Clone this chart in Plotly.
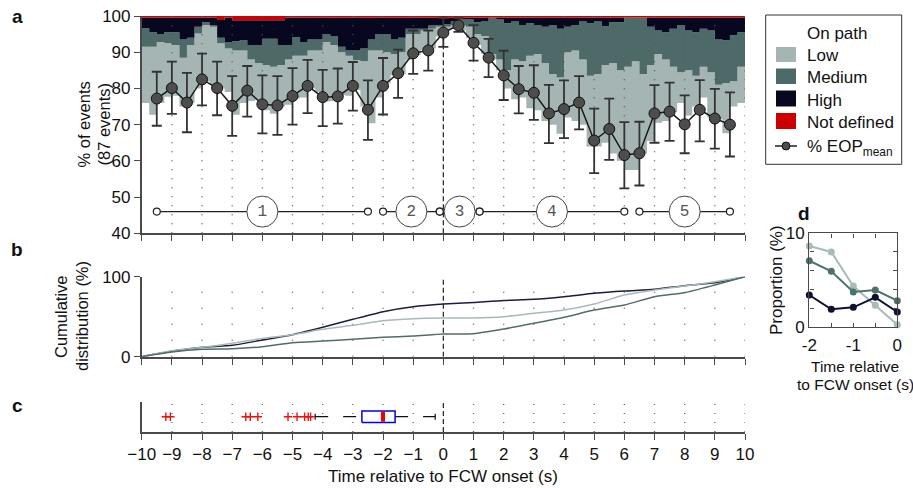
import numpy as np
import plotly.graph_objects as go

W, H = 913, 488
def PX(x): return x / W
def PY(y): return 1 - y / H

FONT = "Liberation Sans, Arial, sans-serif"
C_LOW = "#a4b5b4"; C_MED = "#4d6a68"; C_HIGH = "#07081f"; C_ND = "#cc0000"
AX = "#4a4a4a"

# ---------------- data ----------------
# panel a: mean % eyes-on-path and CI
t_mean = [-9.5, -9.0, -8.5, -8.0, -7.5, -7.0, -6.5, -6.0, -5.5, -5.0, -4.5, -4.0, -3.5,
          -3.0, -2.5, -2.0, -1.5, -1.0, -0.5, 0.0, 0.5, 1.0, 1.5, 2.0, 2.5, 3.0, 3.5,
          4.0, 4.5, 5.0, 5.5, 6.0, 6.5, 7.0, 7.5, 8.0, 8.5, 9.0, 9.5]
eop_mean = [77.2, 80.1, 76.1, 82.5, 80.1, 75.2, 79.4, 75.6, 75.3, 77.9, 80.7, 77.6, 77.8,
            80.7, 74.1, 80.7, 84.2, 89.7, 90.5, 95.4, 97.4, 92.6, 88.5, 83.6, 79.8, 78.8, 73.1,
            74.3, 76.1, 65.6, 68.8, 61.6, 62.1, 73.1, 73.6, 70.1, 74.1, 71.7, 70.0]
ci_hi = [84.6, 87.4, 84.3, 89.6, 87.4, 83.4, 86.2, 83.6, 83.4, 85.6, 87.9, 85.1, 85.5,
         87.3, 82.2, 88.4, 90.7, 96.0, 96.0, 99.4, 99.4, 97.5, 93.7, 90.4, 86.2, 86.4, 81.0,
         82.2, 83.4, 74.4, 77.2, 70.7, 70.8, 80.9, 81.6, 78.1, 82.3, 79.9, 78.9]
ci_lo = [69.7, 73.0, 67.9, 75.3, 72.6, 66.9, 72.2, 67.6, 67.2, 70.0, 73.2, 69.6, 70.3,
         73.9, 65.8, 72.8, 77.4, 84.0, 84.9, 91.5, 95.6, 87.7, 83.1, 76.8, 73.1, 71.3, 64.9,
         66.3, 68.7, 56.6, 60.3, 52.4, 53.2, 65.0, 65.5, 62.1, 65.4, 63.4, 61.2]

# panel a: stacked off-path levels (cumulative boundaries, % of events) per 0.25 s bin
bin_start = np.arange(-10, 10, 0.25)
low_bot = [76, 72.7, 76, 77.7, 78, 75, 76, 80, 82, 81,
           80, 79, 72.7, 76, 76.5, 76.8, 74, 73, 75, 75.5,
           77.3, 77.5, 80, 79, 76.4, 76.5, 78.2, 78, 79.6, 75,
           70.4, 77.5, 81.4, 83.7, 84, 87.9, 89.2, 90.6, 91, 94.3,
           96, 96.5, 96, 94, 92, 89.5, 88, 85, 80, 77,
           77.5, 74.5, 74, 71, 70, 67.5, 72, 71, 70, 64,
           64, 65, 62, 60, 57.5, 57.5, 62, 65.5, 70.5, 71,
           73.5, 76, 72.5, 75, 77.5, 72, 71.5, 67.6, 75, 76]
med_bot = [91.5, 91.5, 92.8, 92.5, 92, 88.5, 92, 95.2, 97.5, 97,
           92.5, 91, 90.5, 90.5, 88, 87, 86.5, 86, 86.5, 88,
           89, 89, 90.5, 90.5, 92.8, 92, 90, 89, 87.8, 87.5,
           90.5, 90.5, 90, 89.5, 90, 95, 95, 96, 96.5, 97,
           97, 97.5, 97.4, 97, 95, 94.5, 89.5, 88, 85, 88,
           87.5, 89, 89.5, 87, 84, 83, 90, 90.5, 88, 83.5,
           84, 86.5, 87, 85, 86, 87.5, 84, 86.5, 89.5, 88,
           86, 84.5, 85, 83.5, 86, 84.5, 81, 81.5, 82, 86]
high_bot = [96.6, 95.5, 95, 95.5, 95.5, 93.5, 94, 97, 98.3, 97.5,
            94, 92.8, 93, 93.4, 92, 92, 93.7, 93.7, 92, 92,
            94.2, 92.8, 93.5, 93.5, 95, 94.5, 91.5, 90.5, 90.5, 91,
            93.5, 95, 95, 93.5, 94, 96.5, 96.5, 96.5, 97.4, 97.5,
            97.8, 98.5, 99, 99, 98.3, 98.5, 99.5, 99, 98, 98.5,
            97.5, 98, 97.5, 97, 97.5, 96.5, 97, 97.5, 98.5, 98,
            98.5, 97.2, 98.3, 98.3, 99.5, 99.5, 99.5, 97, 96, 95.5,
            96.5, 97.5, 96, 95.5, 96.5, 96, 93.5, 93.3, 94.7, 95.5]
nd_bot = [99.6] * 10 + [98.9, 99.6, 98.8, 98.8, 98.8, 98.8, 98.8, 98.8, 98.8, 99.6] + [99.6] * 60

# panel b: cumulative distributions
cdf_t = [-10, -9, -8, -7, -6, -5, -4, -3, -2, -1, 0, 1, 2, 3, 4, 5, 6, 7, 8, 9, 10]
cdf_high = [0, 6.7, 11.7, 14.2, 20.8, 27.5, 36.7, 46.7, 56.3, 62.5, 65.8, 67.9, 70.4, 71.7, 75, 79.2, 82.1, 84.2, 88.75, 92.5, 100]
cdf_low = [0, 7.5, 11.7, 16.7, 22.9, 27.5, 34.2, 39.2, 45, 47.5, 48.3, 48.3, 50, 54.2, 58.3, 65.8, 77.1, 83.3, 88.3, 93.75, 100]
cdf_med = [0, 5.8, 9.2, 10, 12.5, 17.5, 19.6, 21.7, 24.2, 25.8, 28.3, 28.75, 34.6, 41.7, 49.2, 58.3, 64.6, 75, 80, 89.6, 100]

# panel c: box plot summary
box_q1, box_median, box_q3 = -2.7, -2.0, -1.6
whisker_lo, whisker_hi = -4.25, -0.27
outliers = [-9.2, -9.05, -6.55, -6.4, -6.15, -5.15, -4.85, -4.6, -4.48, -4.4]

# phases
phase_labels = ["1", "2", "3", "4", "5"]
phase_start = [-9.5, -2.0, -0.12, 1.2, 6.5]
phase_end = [-2.5, -0.12, 1.2, 6.0, 9.5]

# panel d
d_t = [-2, -1.5, -1, -0.5, 0]
d_low = [8.64, 8.0, 4.36, 2.29, 0.2]
d_med = [7.07, 5.93, 3.71, 3.93, 2.79]
d_high = [3.39, 1.86, 2.07, 3.14, 1.57]

x_ticks = list(range(-10, 11))

# ---------------- figure ----------------
fig = go.Figure()

# panel a stacked areas
edges = list(bin_start) + [10.0]
def st(v): return list(v) + [v[-1]]
layers = [(low_bot, None), (med_bot, C_LOW), (high_bot, C_MED), (nd_bot, C_HIGH), ([100] * 80, C_ND)]
for vals, col in layers:
    fig.add_trace(go.Scatter(x=edges, y=st(vals), mode="lines", line=dict(width=0, shape="hv"),
                             fill=None if col is None else "tonexty", fillcolor=col,
                             hoverinfo="skip", xaxis="x", yaxis="y"))

def vline(xv, y0, y1, xa, ya, dash, color, width):
    fig.add_trace(go.Scatter(x=[xv, xv], y=[y0, y1], mode="lines",
                             line=dict(color=color, width=width, dash=dash),
                             hoverinfo="skip", xaxis=xa, yaxis=ya))

for k in x_ticks:
    if k in (-10, 0):
        continue
    vline(k, 40, 100, "x", "y", "1px,8px", "#555", 1.3)
    vline(k, 0, 100, "x2", "y2", "1px,15px", "#555", 1.3)
    vline(k, 0, 1, "x3", "y3", "1px,8px", "#666", 1.3)
vline(0, 40, 100, "x", "y", "5px,3px", "#222", 1.2)
vline(0, 0, 100, "x2", "y2", "5px,3px", "#222", 1.2)
vline(0, 0, 1, "x3", "y3", "5px,3px", "#222", 1.2)

# phases
PH_Y = 46
for s, e in zip(phase_start, phase_end):
    fig.add_trace(go.Scatter(x=[s, e], y=[PH_Y, PH_Y], mode="lines+markers",
                             line=dict(color="#222", width=1.2),
                             marker=dict(size=7, color="white", line=dict(color="#222", width=1.2)),
                             hoverinfo="skip", xaxis="x", yaxis="y"))
fig.add_trace(go.Scatter(x=[(s + e) / 2 for s, e in zip(phase_start, phase_end)], y=[PH_Y] * 5,
                         mode="markers+text", text=phase_labels, textposition="middle center",
                         textfont=dict(family="Liberation Mono, DejaVu Sans Mono, monospace", size=16, color="#555"),
                         marker=dict(size=31, color="white", line=dict(color="#444", width=1)),
                         hoverinfo="skip", xaxis="x", yaxis="y"))

# mean EOP with error bars
fig.add_trace(go.Scatter(x=t_mean, y=eop_mean, mode="lines+markers",
                         line=dict(color="#1a1a1a", width=1.5),
                         marker=dict(size=11, color="#4d4d4d", line=dict(color="#111", width=1)),
                         error_y=dict(type="data", symmetric=False,
                                      array=[h - m for h, m in zip(ci_hi, eop_mean)],
                                      arrayminus=[m - l for m, l in zip(eop_mean, ci_lo)],
                                      color="#333", thickness=1.8, width=5),
                         hoverinfo="skip", xaxis="x", yaxis="y"))

# panel b
for vals, col in [(cdf_high, "#1c1c42"), (cdf_low, "#a8bab8"), (cdf_med, "#4f6e6b")]:
    fig.add_trace(go.Scatter(x=cdf_t, y=vals, mode="lines", line=dict(color=col, width=1.5, shape="spline", smoothing=0.6),
                             hoverinfo="skip", xaxis="x2", yaxis="y2"))

# panel c
BY0, BY1, BYC = 0.32, 0.70, 0.51
fig.add_trace(go.Scatter(x=[whisker_lo, box_q1], y=[BYC, BYC], mode="lines",
                         line=dict(color="#111", width=1.2, dash="13px,15px"), hoverinfo="skip", xaxis="x3", yaxis="y3"))
fig.add_trace(go.Scatter(x=[box_q3, whisker_hi], y=[BYC, BYC], mode="lines",
                         line=dict(color="#111", width=1.2, dash="13px,15px"), hoverinfo="skip", xaxis="x3", yaxis="y3"))
for wv in (whisker_lo, whisker_hi):
    fig.add_trace(go.Scatter(x=[wv, wv], y=[BYC - 0.1, BYC + 0.1], mode="lines",
                             line=dict(color="#111", width=1.2), hoverinfo="skip", xaxis="x3", yaxis="y3"))
fig.add_trace(go.Scatter(x=[box_q1, box_q3, box_q3, box_q1, box_q1], y=[BY0, BY0, BY1, BY1, BY0],
                         mode="lines", fill="toself", fillcolor="white",
                         line=dict(color="#0000ee", width=1.5), hoverinfo="skip", xaxis="x3", yaxis="y3"))
fig.add_trace(go.Scatter(x=[box_median, box_median], y=[BY0 + 0.02, BY1 - 0.02], mode="lines",
                         line=dict(color="#ee0000", width=4), hoverinfo="skip", xaxis="x3", yaxis="y3"))
fig.add_trace(go.Scatter(x=outliers, y=[BYC] * len(outliers), mode="markers",
                         marker=dict(symbol="cross-thin", size=6, line=dict(color="#ee1111", width=1.4)),
                         hoverinfo="skip", xaxis="x3", yaxis="y3"))

# panel d
for vals, col in [(d_low, "#a9bbb9"), (d_med, "#4f716d"), (d_high, "#0f1030")]:
    fig.add_trace(go.Scatter(x=d_t, y=vals, mode="lines+markers", line=dict(color=col, width=2),
                             marker=dict(size=7, color=col), cliponaxis=False,
                             hoverinfo="skip", xaxis="x4", yaxis="y4"))

# ---------------- axes ----------------
XD = [PX(141.7), PX(745)]
TF = dict(size=17, color="#111", family=FONT)
common_x = dict(range=[-10, 10], tickvals=x_ticks, ticks="outside", ticklen=6, tickwidth=1.4,
                tickcolor=AX, showline=True, linecolor=AX, linewidth=1.6, showgrid=False,
                zeroline=False, domain=XD, tickfont=TF, automargin=False)
common_y = dict(ticks="outside", ticklen=6, tickwidth=1.4, tickcolor=AX, showline=True, linecolor=AX,
                linewidth=1.6, showgrid=False, zeroline=False, tickfont=TF, automargin=False)
fig.update_layout(
    template="none",
    width=W, height=H, margin=dict(l=0, r=0, t=0, b=0, pad=0, autoexpand=False),
    paper_bgcolor="white", plot_bgcolor="rgba(0,0,0,0)", showlegend=False,
    font=dict(family=FONT, size=17, color="#111"),
    xaxis=dict(common_x, anchor="y", showticklabels=False),
    yaxis=dict(common_y, domain=[PY(233.3), PY(16)], anchor="x", range=[40, 100],
               tickvals=[40, 50, 60, 70, 80, 90, 100]),
    xaxis2=dict(common_x, anchor="y2", showticklabels=False),
    yaxis2=dict(common_y, domain=[PY(356.7), PY(276.7)], anchor="x2", range=[0, 100], tickvals=[0, 100]),
    xaxis3=dict(common_x, anchor="y3", showticklabels=True),
    yaxis3=dict(common_y, domain=[PY(432), PY(402)], anchor="x3", range=[0, 1], showticklabels=False, ticks=""),
    xaxis4=dict(domain=[PX(809.3), PX(897.3)], anchor="y4", range=[-2, 0],
                tickvals=[-2, -1, 0], ticktext=["-2", "-1", "0"],
                ticks="inside", ticklen=4, tickcolor=AX, showline=True, mirror="ticks", linecolor=AX,
                linewidth=1.4, showgrid=False, zeroline=False, ticklabelstandoff=3,
                minor=dict(ticks="inside", dtick=0.5, ticklen=4, tickcolor=AX),
                tickfont=TF, automargin=False),
    yaxis4=dict(domain=[PY(326.7), PY(233.3)], anchor="x4", range=[0, 10],
                tickvals=[0, 10], ticks="inside", ticklen=4, tickcolor=AX, showline=True,
                mirror="ticks", linecolor=AX, linewidth=1.4, showgrid=False, zeroline=False,
                minor=dict(ticks="inside", dtick=2, ticklen=4, tickcolor=AX),
                tickfont=TF, automargin=False),
)

# ---------------- annotations ----------------
ann = []
def A(x, y, text, size=17, bold=False, angle=0, xanchor="center", yanchor="middle", color="#111"):
    ann.append(dict(x=PX(x), y=PY(y), xref="paper", yref="paper", text=f"<b>{text}</b>" if bold else text,
                    showarrow=False, textangle=angle, xanchor=xanchor, yanchor=yanchor,
                    font=dict(family=FONT, size=size, color=color)))

A(17, 16, "a", size=19, bold=True)
A(17, 250, "b", size=19, bold=True)
A(17, 405, "c", size=19, bold=True)
A(804, 213, "d", size=19, bold=True)
A(83, 124.5, "% of events", size=16.5, angle=-90)
A(103, 124.5, "(87 events)", size=16.5, angle=-90)
A(61, 316, "Cumulative", size=16.5, angle=-90)
A(82, 316, "distribution (%)", size=16.5, angle=-90)
A(443, 476, "Time relative to FCW onset (s)")
A(776, 280, "Proportion (%)", angle=-90)
A(855, 366, "Time relative", size=15.5)
A(855, 384, "to FCW onset (s)", size=15.5)

# legend
shapes = [dict(type="rect", xref="paper", yref="paper", x0=PX(765.7), x1=PX(901.7), y0=PY(164.3), y1=PY(15),
               line=dict(color="#333", width=1), fillcolor="white", layer="below")]
leg_items = [("Low", C_LOW, 47, 62, 55), ("Medium", C_MED, 68.5, 84, 77.5),
             ("High", C_HIGH, 90.5, 106.5, 100), ("Not defined", C_ND, 113, 129, 122)]
A(805, 33, "On path", xanchor="left")
for name, col, y0, y1, yc in leg_items:
    shapes.append(dict(type="rect", xref="paper", yref="paper", x0=PX(776), x1=PX(796), y0=PY(y1), y1=PY(y0),
                       line=dict(width=0), fillcolor=col))
    A(805, yc, name, xanchor="left")
shapes.append(dict(type="line", xref="paper", yref="paper", x0=PX(775), x1=PX(797), y0=PY(146), y1=PY(146),
                   line=dict(color="#111", width=1.4)))
shapes.append(dict(type="circle", xref="paper", yref="paper", x0=PX(782), x1=PX(790), y0=PY(150), y1=PY(142),
                   line=dict(color="#111", width=1), fillcolor="#4d4d4d"))
A(805, 148, "% EOP<sub>mean</sub>", xanchor="left")

fig.update_layout(annotations=ann, shapes=shapes)
fig.write_html("out.html", config={"displayModeBar": False})
